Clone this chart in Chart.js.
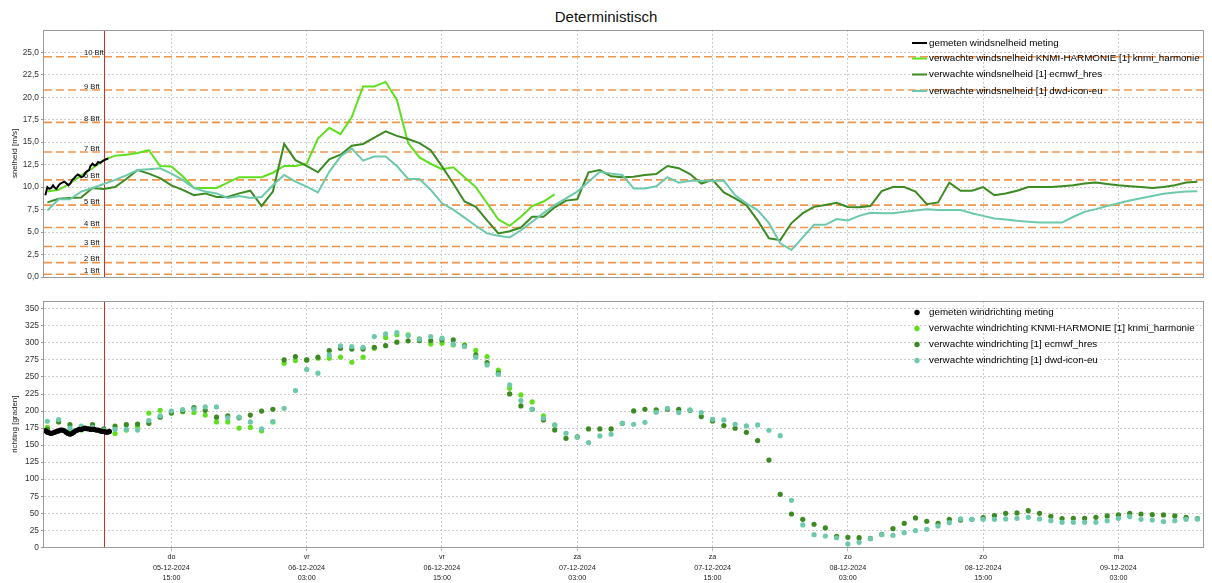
<!DOCTYPE html>
<html><head><meta charset="utf-8">
<script src="https://cdn.jsdelivr.net/npm/chart.js@4.4.1/dist/chart.umd.min.js"></script>
<style>
html,body{margin:0;padding:0;background:#fff;width:1212px;height:583px;overflow:hidden;}
#title{position:absolute;left:0;top:8px;width:1212px;text-align:center;font:15px "Liberation Sans",Arial,sans-serif;color:#111;}
canvas{position:absolute;left:0;}
#c1{top:0px} #c2{top:290px}
</style></head><body>
<div id="title">Deterministisch</div>
<canvas id="c1" width="1212" height="290"></canvas>
<canvas id="c2" width="1212" height="293"></canvas>
<script>
// ---------- DATA ----------
// hours counted from 05-12-2024 00:00
const FIRST_HOUR = 4;          // first hourly forecast value
const NOW_HOUR = 9;            // red "now" line
const tickHours = [15, 27, 39, 51, 63, 75, 87, 99];
const tickDays  = ['do', 'vr', 'vr', 'za', 'za', 'zo', 'zo', 'ma'];
const tickDates = ['05-12-2024', '06-12-2024', '06-12-2024', '07-12-2024', '07-12-2024', '08-12-2024', '08-12-2024', '09-12-2024'];
const tickTimes = ['15:00', '03:00', '15:00', '03:00', '15:00', '03:00', '15:00', '03:00'];

const bftValues = [0.3, 1.6, 3.4, 5.5, 8.0, 10.8, 13.9, 17.2, 20.8, 24.5];
const bftLabels = ['1 Bft', '2 Bft', '3 Bft', '4 Bft', '5 Bft', '6 Bft', '7 Bft', '8 Bft', '9 Bft', '10 Bft'];

const speedTicks = [0, 2.5, 5, 7.5, 10, 12.5, 15, 17.5, 20, 22.5, 25];
const dirTicks = [0, 25, 50, 75, 100, 125, 150, 175, 200, 225, 250, 275, 300, 325, 350];

// measured wind speed (10-minute values)
const measuredSpeedHours = [3.82, 4.0, 4.17, 4.35, 4.5, 4.6, 4.8, 5.0, 5.15, 5.33, 5.5, 5.7, 5.87, 6.04, 6.2, 6.4, 6.5, 6.7, 6.84, 7.0, 7.2, 7.37, 7.55, 7.7, 7.8, 8.0, 8.2, 8.35, 8.5, 8.7, 8.9, 9.05, 9.2, 9.4];
const measuredSpeed      = [9.1, 10.0, 9.8, 9.9, 10.2, 10.0, 9.8, 10.2, 10.4, 10.5, 10.6, 10.4, 10.2, 10.4, 10.8, 11.0, 11.2, 11.4, 11.3, 11.1, 11.2, 11.6, 11.8, 11.9, 12.3, 12.6, 12.4, 12.5, 12.8, 12.7, 12.9, 13.0, 13.1, 13.2];

// hourly forecast wind speed (m/s), starting at FIRST_HOUR
const harmonieSpeed = [9.5, 9.7, 10.4, 11.3, 12.1, 13.0, 13.5, 13.6, 13.8, 14.1, 12.35, 12.3, 11.2, 9.9, 9.9, 9.9, 10.5, 11.1, 11.1, 11.1, 11.6, 12.35, 12.35, 12.6, 15.4, 16.6, 15.9, 17.8, 21.2, 21.2, 21.7, 19.7, 14.9, 13.3, 12.6, 12.0, 12.2, 11.1, 10.0, 8.2, 6.4, 5.7, 6.7, 7.9, 8.4, 9.2];
const ecmwfSpeed = [8.3, 8.7, 8.8, 8.85, 9.9, 9.8, 10.0, 10.9, 11.9, 11.5, 11.0, 10.2, 9.7, 9.1, 9.3, 8.9, 8.9, 9.3, 9.6, 7.9, 9.5, 14.8, 13.0, 12.35, 11.65, 13.1, 13.6, 14.6, 14.8, 15.5, 16.2, 15.7, 15.35, 14.9, 14.1, 12.3, 10.4, 8.4, 7.8, 6.3, 4.85, 5.1, 5.5, 6.7, 6.7, 7.75, 8.5, 8.65, 11.65, 11.9, 11.2, 11.1, 11.15, 11.35, 11.45, 12.35, 12.1, 11.45, 10.4, 10.8, 9.4, 8.75, 8.0, 6.3, 4.3, 4.1, 6.0, 7.1, 7.8, 8.0, 8.25, 7.8, 7.75, 7.9, 9.55, 10.0, 10.0, 9.5, 8.1, 8.3, 10.5, 9.6, 9.6, 10.0, 9.1, 9.3, 9.6, 10.0, 10.0, 10.0, 10.1, 10.2, 10.4, 10.5, 10.35, 10.2, 10.1, 10.0, 9.9, 10.0, 10.2, 10.5, 10.6];
const dwdSpeed = [7.4, 8.65, 8.65, 9.5, 9.9, 10.35, 10.8, 11.3, 11.9, 12.0, 12.1, 11.5, 10.8, 9.9, 9.5, 9.3, 8.8, 9.0, 8.8, 8.9, 10.2, 11.35, 10.6, 10.05, 9.4, 11.7, 13.4, 14.3, 12.95, 13.4, 13.4, 12.35, 10.9, 10.9, 9.7, 8.2, 7.5, 6.6, 5.7, 4.85, 4.6, 4.4, 5.2, 6.15, 7.1, 8.0, 8.75, 9.5, 10.6, 11.7, 11.5, 11.35, 9.85, 9.85, 10.1, 11.1, 10.5, 10.7, 10.7, 10.7, 10.7, 9.1, 8.2, 7.45, 6.0, 3.75, 3.0, 4.4, 5.8, 5.8, 6.45, 6.3, 6.8, 7.15, 7.1, 7.1, 7.25, 7.4, 7.55, 7.45, 7.45, 7.45, 7.1, 6.8, 6.5, 6.4, 6.25, 6.15, 6.05, 6.05, 6.05, 6.7, 7.25, 7.55, 7.9, 8.2, 8.5, 8.75, 9.0, 9.25, 9.4, 9.5, 9.55];

// measured wind direction (10-minute values)
const measuredDirHours = [3.83, 4.0, 4.17, 4.33, 4.5, 4.67, 4.83, 5.0, 5.17, 5.33, 5.5, 5.67, 5.83, 6.0, 6.17, 6.33, 6.5, 6.67, 6.83, 7.0, 7.17, 7.33, 7.5, 7.67, 7.83, 8.0, 8.17, 8.33, 8.5, 8.67, 8.83, 9.0, 9.17, 9.33, 9.5];
const measuredDir      = [171, 169, 168, 167, 168, 169, 170, 171, 172, 172, 171, 169, 167, 166, 167, 169, 171, 172, 173, 173, 174, 175, 174, 174, 173, 173, 173, 172, 172, 171, 170, 170, 169, 169, 170];

// hourly forecast wind direction (degrees), starting at FIRST_HOUR
const harmonieDir = [176, 171, 171, 172, 173, 170, 167, 172, 177, 197, 201, 198, 199, 198, 194, 184, 184, 175, 176, 171, 184, 270, 274, 275, 277.5, 277.5, 279, 271.6, 279, 292, 308, 312, 312, 306, 298.5, 299.5, 297, 297, 289, 280, 260, 233.5, 223.7, 213.4, 192.8, 179];
const ecmwfDir = [173, 184, 180, 176, 180, 174, 178, 180, 181, 182, 191, 197, 200, 205, 201, 191, 193, 190, 194, 200, 202.6, 275, 280, 275, 279, 288.8, 292, 291, 291, 293.6, 296, 301, 303, 303.4, 303.4, 304.4, 304.4, 295.6, 282.4, 271.1, 255.5, 225.1, 207.5, 202.6, 187, 172.3, 160, 162, 173.7, 173.7, 173.7, 182, 200.2, 202.6, 201.6, 202.6, 202.6, 201, 191.8, 185.5, 178.6, 174.7, 168.8, 156.6, 128, 77.8, 48.9, 41.1, 33.8, 28.4, 16, 14.7, 14.2, 13, 19, 27.4, 35.2, 43.1, 38.2, 35.2, 41.1, 40, 41, 43.5, 46.5, 49.9, 50.4, 53.8, 49.9, 45.5, 42.1, 42.6, 42.6, 44, 46, 47.5, 49.9, 48.9, 48, 47.5, 46, 44, 42];
const dwdDir = [185, 187.5, 175, 178, 176, 172, 173, 173, 172, 186, 193, 200, 202, 203, 206, 206, 190, 191, 184, 174, 184.5, 204, 230, 261, 255.5, 282.4, 295.6, 294.6, 293.6, 309.3, 313.2, 315.2, 310.8, 305.4, 309.3, 306.9, 298.1, 294.6, 279, 267.7, 254, 238.3, 215.3, 202.6, 189.4, 179.6, 167.4, 161.5, 153.7, 163.5, 165.9, 182, 180.6, 183.5, 198.2, 204.1, 197.7, 201.6, 197.7, 187.9, 186.9, 180.6, 178.1, 179.6, 171.8, 163.9, 69, 32.8, 18.6, 16.6, 14, 4.9, 7.3, 12.7, 18.6, 17.6, 21.5, 24.5, 26.4, 31.3, 36.2, 41.6, 41.1, 41.1, 41.1, 41.6, 42.6, 44, 41.6, 39.1, 36.7, 36.7, 36.7, 36.7, 39.1, 42.6, 45, 41.1, 40.1, 37.7, 39.1, 41.1, 41.6];

// ---------- STYLE ----------
const FONT = '"Liberation Sans", Arial, sans-serif';
const COL_MEAS = '#000000';
const COL_HARM = '#5fe01e';
const COL_ECMWF = '#3b8a22';
const COL_DWD = '#6dc9ab';
const GRID = '#cccccc';
const X_MIN = 3.7, X_MAX = 106.5;

const hourly = (arr) => arr.map((v, i) => ({ x: FIRST_HOUR + i, y: v }));
const paired = (hs, vs) => hs.map((h, i) => ({ x: h, y: vs[i] }));

function xAxis(showLabels, height) {
  return {
    type: 'linear', min: X_MIN, max: X_MAX,
    afterBuildTicks: s => { s.ticks = tickHours.map(v => ({ value: v })); },
    grid: { color: GRID, lineWidth: 1, drawTicks: showLabels, tickLength: 4, tickColor: '#bbbbbb' },
    border: { display: false, dash: [2, 2] },
    ticks: {
      display: showLabels, autoSkip: false, maxRotation: 0, minRotation: 0, padding: 1,
      font: { family: FONT, size: 7.2, lineHeight: 1.45 }, color: '#222',
      callback: (v, i) => [tickDays[i], tickDates[i], tickTimes[i]]
    },
    afterFit: s => { s.height = height; }
  };
}
function yAxis(min, max, ticks, fmt, title) {
  return {
    type: 'linear', min: min, max: max,
    afterBuildTicks: s => { s.ticks = ticks.map(v => ({ value: v })); },
    grid: { color: GRID, lineWidth: 1, drawTicks: true, tickLength: 3, tickColor: '#999' },
    border: { display: false, dash: [2, 2] },
    ticks: { font: { family: FONT, size: 8.4 }, color: '#333', padding: 2, callback: fmt },
    title: { display: true, text: title, font: { family: FONT, size: 8 }, color: '#222', padding: { top: 10, bottom: 0 } },
    afterFit: s => { s.width = 44; }
  };
}

function overlayPlugin(opts) {
  return {
    id: 'overlay',
    beforeDatasetsDraw(chart) {
      const { ctx, chartArea: a, scales } = chart;
      ctx.save();
      ctx.beginPath(); ctx.rect(a.left, a.top, a.right - a.left, a.bottom - a.top); ctx.clip();
      if (opts.bft) {
        ctx.setLineDash([8, 4]); ctx.lineWidth = 1.6; ctx.strokeStyle = 'rgba(240,130,45,0.85)';
        bftValues.forEach(v => {
          const y = scales.y.getPixelForValue(v);
          ctx.beginPath(); ctx.moveTo(a.left, y); ctx.lineTo(a.right, y); ctx.stroke();
        });
        ctx.setLineDash([]);
        ctx.font = '7.6px ' + FONT; ctx.fillStyle = '#111'; ctx.textBaseline = 'alphabetic'; ctx.textAlign = 'left';
        bftValues.forEach((v, i) => {
          const y = scales.y.getPixelForValue(v);
          ctx.fillText(bftLabels[i], 84, y - 1.5);
        });
      }
      const xn = Math.round(scales.x.getPixelForValue(NOW_HOUR)) + 0.5;
      ctx.strokeStyle = '#c8302c'; ctx.lineWidth = 1;
      ctx.beginPath(); ctx.moveTo(xn, a.top); ctx.lineTo(xn, a.bottom); ctx.stroke();
      ctx.restore();
    },
    afterDraw(chart) {
      const { ctx, chartArea: a } = chart;
      ctx.save();
      ctx.strokeStyle = '#9a9a9a'; ctx.lineWidth = 1;
      ctx.strokeRect(Math.round(a.left) - 0.5, Math.round(a.top) + 0.5, Math.round(a.right - a.left) + 1, Math.round(a.bottom - a.top));
      // legend
      ctx.font = '9.8px ' + FONT; ctx.textBaseline = 'middle'; ctx.textAlign = 'left';
      chart.data.datasets.forEach((ds, i) => {
        const y = opts.legendY[i];
        const c = ds.legendColor;
        if (opts.kind === 'line') {
          ctx.strokeStyle = c; ctx.lineWidth = 2;
          ctx.beginPath(); ctx.moveTo(912, y); ctx.lineTo(927, y); ctx.stroke();
        } else {
          ctx.fillStyle = c; ctx.beginPath(); ctx.arc(917, y, 2.7, 0, Math.PI * 2); ctx.fill();
        }
        ctx.fillStyle = '#000';
        ctx.fillText(ds.label, 929, y);
      });
      ctx.restore();
    }
  };
}

const common = {
  responsive: false, animation: false, devicePixelRatio: 1,
  plugins: { legend: { display: false }, tooltip: { enabled: false }, title: { display: false } },
  elements: { point: { radius: 0 }, line: { tension: 0 } }
};

// ---------- TOP CHART : speed ----------
new Chart(document.getElementById('c1'), {
  type: 'line',
  data: {
    datasets: [
      { label: 'gemeten windsnelheid meting', data: paired(measuredSpeedHours, measuredSpeed), borderColor: COL_MEAS, legendColor: COL_MEAS, borderWidth: 2, order: 0 },
      { label: 'verwachte windsnelheid KNMI-HARMONIE [1] knmi_harmonie', data: hourly(harmonieSpeed), borderColor: COL_HARM, legendColor: COL_HARM, borderWidth: 2, order: 3 },
      { label: 'verwachte windsnelheid [1] ecmwf_hres', data: hourly(ecmwfSpeed), borderColor: COL_ECMWF, legendColor: COL_ECMWF, borderWidth: 2, order: 2 },
      { label: 'verwachte windsnelheid [1] dwd-icon-eu', data: hourly(dwdSpeed), borderColor: COL_DWD, legendColor: COL_DWD, borderWidth: 2, order: 1 }
    ]
  },
  options: Object.assign({}, common, {
    parsing: false,
    layout: { padding: { top: 29.8, bottom: 13, left: 0, right: 9 } },
    scales: {
      x: xAxis(false, 0),
      y: yAxis(0, 27.5, speedTicks, v => v.toFixed(1).replace('.', ','), 'snelheid [m/s]')
    }
  }),
  plugins: [overlayPlugin({ bft: true, kind: 'line', legendY: [43, 58.5, 74.5, 91] })]
});

// ---------- BOTTOM CHART : direction ----------
const dot = (col) => ({ showLine: false, pointRadius: 2.6, pointBorderWidth: 0, pointBackgroundColor: col, borderColor: col, backgroundColor: col, legendColor: col });
new Chart(document.getElementById('c2'), {
  type: 'line',
  data: {
    datasets: [
      Object.assign({ label: 'gemeten windrichting meting', data: paired(measuredDirHours, measuredDir), order: 0 }, dot(COL_MEAS)),
      Object.assign({ label: 'verwachte windrichting KNMI-HARMONIE [1] knmi_harmonie', data: hourly(harmonieDir), order: 3 }, dot(COL_HARM)),
      Object.assign({ label: 'verwachte windrichting [1] ecmwf_hres', data: hourly(ecmwfDir), order: 2 }, dot(COL_ECMWF)),
      Object.assign({ label: 'verwachte windrichting [1] dwd-icon-eu', data: hourly(dwdDir), order: 1 }, dot(COL_DWD))
    ]
  },
  options: Object.assign({}, common, {
    parsing: false,
    layout: { padding: { top: 11, bottom: 0, left: 0, right: 9 } },
    scales: {
      x: xAxis(true, 35.7),
      y: yAxis(0, 361.5, dirTicks, v => String(v), 'richting [graden]')
    }
  }),
  plugins: [overlayPlugin({ bft: false, kind: 'dot', legendY: [22.5, 38.5, 54.5, 70.5] })]
});
</script>
</body></html>
